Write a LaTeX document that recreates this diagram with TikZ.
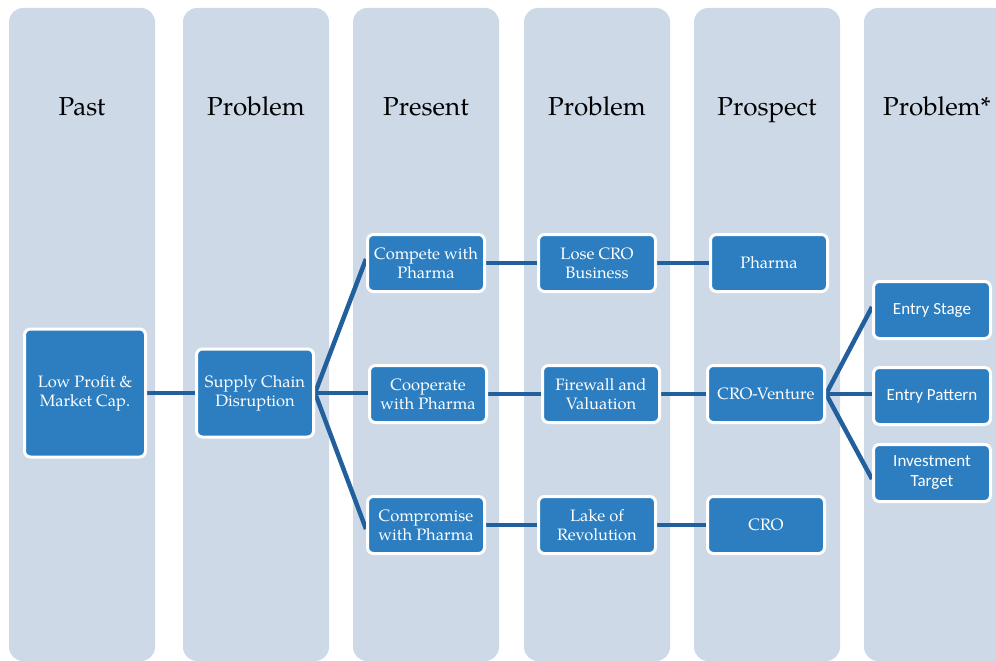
\documentclass[tikz,border=0pt]{standalone}
\usepackage{fontspec}
\setmainfont{TeX Gyre Pagella}
\newfontfamily\carlito{Carlito}
\usetikzlibrary{backgrounds}
\definecolor{colbg}{RGB}{206,217,232}
\definecolor{boxblue}{RGB}{44,126,192}
\definecolor{lineblue}{RGB}{33,96,156}
\tikzset{
  column/.style={fill=colbg, rounded corners=14pt},
  coltitle/.style={anchor=base, font=\fontsize{26}{30}\selectfont, text=black},
  blk/.style={fill=boxblue, draw=white, line width=3pt, rounded corners=6pt,
    minimum width=117pt, minimum height=57pt, inner sep=2pt, align=center,
    text=white, font=\fontsize{16.5}{19}\selectfont},
  sblk/.style={blk, font=\carlito\fontsize{17}{20}\selectfont},
  link/.style={draw=lineblue, line width=4.5pt}
}
\begin{document}
\begin{tikzpicture}[x=1pt,y=-1pt]
\useasboundingbox (0,0) rectangle (996,661);
\clip (0,0) rectangle (996,661);
% titles
\node[coltitle] (t1) at (82,115) {Past};
\node[coltitle] (t2) at (256,115) {Problem};
\node[coltitle] (t3) at (426,115) {Present};
\node[coltitle] (t4) at (597,115) {Problem};
\node[coltitle] (t5) at (767,115) {Prospect};
\node[coltitle] (t6) at (937,115) {Problem*};
% boxes
\node[blk, minimum width=121pt, minimum height=128pt] (low) at (85,393) {Low Profit \&\\Market Cap.};
\node[blk, minimum height=88pt] (sc) at (255,393) {Supply Chain\\Disruption};
\node[blk] (comp) at (426,263) {Compete with\\Pharma};
\node[blk] (coop) at (428,394) {Cooperate\\with Pharma};
\node[blk] (crom) at (426,525) {Compromise\\with Pharma};
\node[blk] (lose) at (597,263) {Lose CRO\\Business};
\node[blk] (fire) at (601,394) {Firewall and\\Valuation};
\node[blk] (lake) at (597,525) {Lake of\\Revolution};
\node[blk] (ph) at (769,263) {Pharma};
\node[blk] (cv) at (766,394) {CRO-Venture};
\node[blk] (cro) at (766,525) {CRO};
\node[sblk] (es) at (932,310) {Entry Stage};
\node[sblk] (ep) at (932,396) {Entry Pattern};
\node[sblk] (it) at (932,473) {Investment\\Target};
\begin{scope}[on background layer]
% columns
\fill[column] (9,8) rectangle (155,661);
\fill[column] (183,8) rectangle (329,661);
\fill[column] (353,8) rectangle (499,661);
\fill[column] (524,8) rectangle (670,661);
\fill[column] (694,8) rectangle (840,661);
\fill[column] (864,8) rectangle (1010,661);
% connectors
\draw[link] (low.east) -- (low.east -| sc.west);
\draw[link] (sc.east) -- ([yshift=4pt]comp.west);
\draw[link] (sc.east) -- (sc.east -| coop.west);
\draw[link] (sc.east) -- ([yshift=-4pt]crom.west);
\draw[link] (comp.east) -- (comp.east -| lose.west);
\draw[link] (coop.east) -- (coop.east -| fire.west);
\draw[link] (crom.east) -- (crom.east -| lake.west);
\draw[link] (lose.east) -- (lose.east -| ph.west);
\draw[link] (fire.east) -- (fire.east -| cv.west);
\draw[link] (lake.east) -- (lake.east -| cro.west);
\draw[link] (cv.east) -- ([yshift=3pt]es.west);
\draw[link] (cv.east) -- (cv.east -| ep.west);
\draw[link] (cv.east) -- ([yshift=-6pt]it.west);
\end{scope}
\end{tikzpicture}
\end{document}
